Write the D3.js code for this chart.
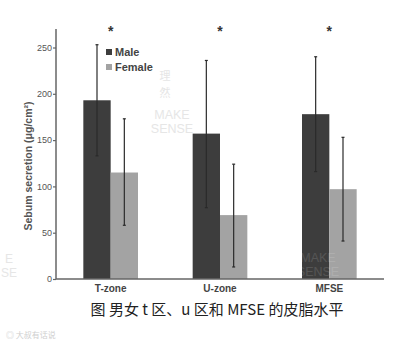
<!DOCTYPE html>
<html><head><meta charset="utf-8">
<script src="https://cdn.jsdelivr.net/npm/d3@7"></script>
<style>body{margin:0;background:#fff;}svg{display:block;}</style>
</head><body>
<svg id="c" width="394" height="347"></svg>
<script>
const categories = ["T-zone", "U-zone", "MFSE"];
const series = ["Male", "Female"];
const maleValues = [193, 157, 178];
const femaleValues = [115, 69, 97];
const maleErrLow = [133, 77, 116];
const maleErrHigh = [253, 236, 240];
const femaleErrLow = [58, 13, 41];
const femaleErrHigh = [173, 124, 153];
const yTicks = [0, 50, 100, 150, 200, 250];
const significance = ["*", "*", "*"];
const caption = "图 男女 t 区、u 区和 MFSE 的皮脂水平";
const yLabel = "Sebum secretion (μg/cm²)";

const colors = {Male: "#3d3d3d", Female: "#a3a3a3"};
const svg = d3.select("#c");

const x = d3.scaleBand().domain(categories).range([56, 384]).paddingInner(0.5).paddingOuter(0.25);
const xs = d3.scaleBand().domain(series).range([0, x.bandwidth()]);
const y = d3.scaleLinear().domain([0, 250]).range([279, 47.5]);

// watermarks
const wm = svg.append("g").attr("font-family", "Liberation Sans, Arial, sans-serif").attr("fill", "#e6e6e6");
wm.append("text").attr("x", 165).attr("y", 80).attr("font-size", 11).attr("text-anchor", "middle").attr("font-family", "Noto Sans CJK SC").text("理");
wm.append("text").attr("x", 165).attr("y", 97).attr("font-size", 11).attr("text-anchor", "middle").attr("font-family", "Noto Sans CJK SC").text("然");
wm.append("text").attr("x", 172).attr("y", 119).attr("font-size", 12.5).attr("text-anchor", "middle").text("MAKE");
wm.append("text").attr("x", 172).attr("y", 133).attr("font-size", 12.5).attr("text-anchor", "middle").text("SENSE");
wm.append("text").attr("x", 13).attr("y", 263).attr("font-size", 12).attr("text-anchor", "end").text("E");
wm.append("text").attr("x", 1).attr("y", 277).attr("font-size", 12).attr("text-anchor", "start").text("SE");

// bars
const bars = [];
categories.forEach((c, i) => {
  bars.push({c, s: "Male", v: maleValues[i], lo: maleErrLow[i], hi: maleErrHigh[i]});
  bars.push({c, s: "Female", v: femaleValues[i], lo: femaleErrLow[i], hi: femaleErrHigh[i]});
});
svg.append("g").selectAll("rect").data(bars).join("rect")
  .attr("x", d => x(d.c) + xs(d.s))
  .attr("width", xs.bandwidth())
  .attr("y", d => y(d.v))
  .attr("height", d => y(0) - y(d.v))
  .attr("fill", d => colors[d.s]);

// faint watermark over MFSE bars
const wm2 = svg.append("g").attr("font-family", "Liberation Sans, Arial, sans-serif").attr("fill", "#ffffff").attr("opacity", 0.12);
wm2.append("text").attr("x", 318).attr("y", 262).attr("font-size", 12.5).attr("text-anchor", "middle").text("MAKE");
wm2.append("text").attr("x", 318).attr("y", 276).attr("font-size", 12.5).attr("text-anchor", "middle").text("SENSE");

// error bars
const eb = svg.append("g").attr("stroke", "#2a2a2a").attr("stroke-width", 1.2);
bars.forEach(d => {
  const cx = x(d.c) + xs(d.s) + xs.bandwidth() / 2;
  eb.append("line").attr("x1", cx).attr("x2", cx).attr("y1", y(d.hi)).attr("y2", y(d.lo));
  eb.append("line").attr("x1", cx - 1.5).attr("x2", cx + 1.5).attr("y1", y(d.hi)).attr("y2", y(d.hi));
  eb.append("line").attr("x1", cx - 1.5).attr("x2", cx + 1.5).attr("y1", y(d.lo)).attr("y2", y(d.lo));
});

// axes
const yAxis = d3.axisLeft(y).tickValues(yTicks).tickSize(3).tickPadding(1);
const gy = svg.append("g").attr("transform", "translate(56,0)").call(yAxis);
gy.select(".domain").attr("d", "M0,29V279").attr("stroke", "#666").attr("stroke-width", 1.5);
gy.selectAll(".tick line").attr("stroke", "#666").attr("stroke-width", 1.2);
gy.selectAll(".tick text").attr("font-family", "Liberation Sans, Arial, sans-serif").attr("font-size", 9).attr("fill", "#555");

const xAxis = d3.axisBottom(x).tickSize(0).tickPadding(6);
const gx = svg.append("g").attr("transform", "translate(0,279)").call(xAxis);
gx.select(".domain").attr("d", "M56,0H384").attr("stroke", "#666").attr("stroke-width", 1.5);
gx.selectAll(".tick text").attr("font-family", "Liberation Sans, Arial, sans-serif").attr("font-size", 10).attr("font-weight", "bold").attr("fill", "#444");

// significance stars
svg.append("g").selectAll("text").data(categories).join("text")
  .attr("x", d => x(d) + x.bandwidth() / 2)
  .attr("y", 36)
  .attr("text-anchor", "middle")
  .attr("font-family", "Liberation Sans, Arial, sans-serif")
  .attr("font-size", 14).attr("font-weight", "bold").attr("fill", "#333")
  .text((d, i) => significance[i]);

// y label
svg.append("text").attr("transform", "translate(32,166) rotate(-90)")
  .attr("text-anchor", "middle")
  .attr("font-family", "Liberation Sans, Arial, sans-serif")
  .attr("font-size", 10.5).attr("font-weight", "bold").attr("fill", "#555")
  .text(yLabel);

// legend
const lg = svg.append("g").selectAll("g").data(series).join("g")
  .attr("transform", (d, i) => `translate(106,${49 + i * 15})`);
lg.append("rect").attr("width", 6).attr("height", 6).attr("fill", d => colors[d]);
lg.append("text").attr("x", 9).attr("y", 6.5)
  .attr("font-family", "Liberation Sans, Arial, sans-serif")
  .attr("font-size", 11).attr("font-weight", "bold").attr("fill", "#444")
  .text(d => d);

// caption
svg.append("text").attr("x", 217).attr("y", 315).attr("text-anchor", "middle")
  .attr("font-family", "Noto Sans CJK SC").attr("font-size", 15).attr("fill", "#222")
  .text(caption);

// bottom-left watermark
svg.append("text").attr("x", 6).attr("y", 338)
  .attr("font-family", "Noto Sans CJK SC").attr("font-size", 8).attr("fill", "#cfcfcf")
  .text("◎ 大叔有话说");
</script>
</body></html>
